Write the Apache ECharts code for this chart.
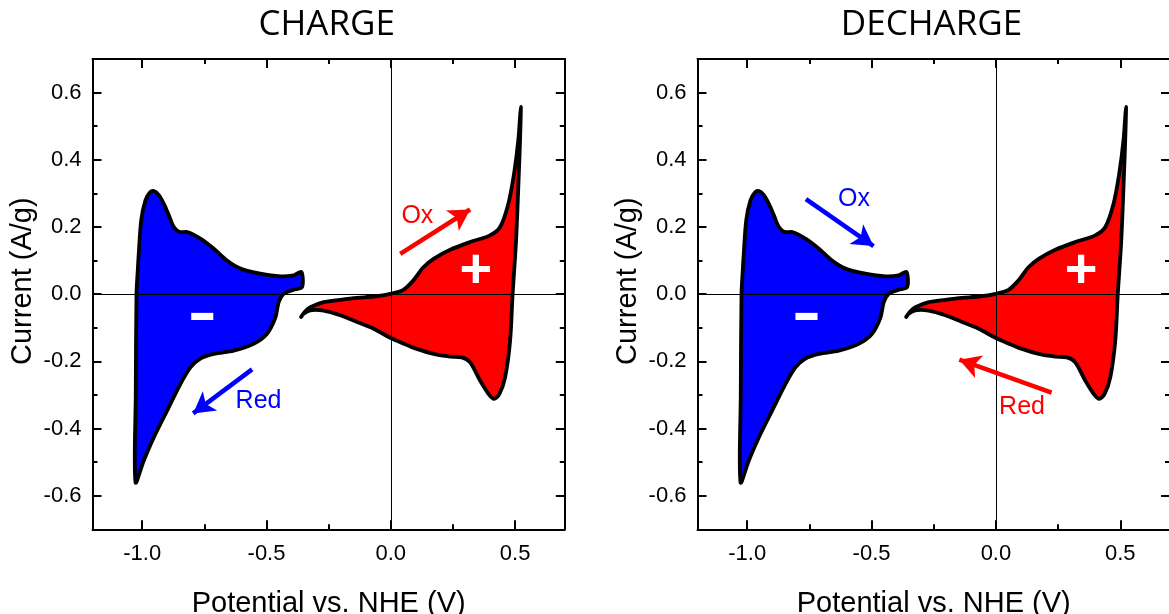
<!DOCTYPE html>
<html><head><meta charset="utf-8">
<script src="https://cdn.jsdelivr.net/npm/echarts@6/dist/echarts.min.js"></script>
<style>html,body{margin:0;padding:0;background:#fff}#c{width:1169px;height:614px}</style>
</head><body><div id="c"></div>
<script>
// ---------------- data ----------------
const panelTitles = ['CHARGE', 'DECHARGE'];
const xName = 'Potential vs. NHE (V)';
const yName = 'Current (A/g)';
const xMajor = [-1.0, -0.5, 0.0, 0.5];
const xMinor = [-0.75, -0.25, 0.25];
const yMajor = [-0.6, -0.4, -0.2, 0.0, 0.2, 0.4, 0.6];
const yMinor = [-0.5, -0.3, -0.1, 0.1, 0.3, 0.5];

// negative electrode CV loop (blue), potential (V) and current (A/g)
const negV = [-1.027, -1.026, -1.023, -1.018, -1.014, -1.004, -0.987, -0.970, -0.953, -0.933, -0.913, -0.893, -0.873, -0.849, -0.819, -0.766, -0.712, -0.659, -0.605, -0.525, -0.444, -0.391, -0.360, -0.357, -0.391, -0.431, -0.451, -0.464, -0.498, -0.552, -0.632, -0.712, -0.766, -0.806, -0.846, -0.900, -0.953, -0.994];
const negI = [-0.560, -0.300, 0.000, 0.070, 0.120, 0.220, 0.279, 0.302, 0.307, 0.295, 0.269, 0.235, 0.200, 0.185, 0.185, 0.165, 0.135, 0.100, 0.076, 0.061, 0.053, 0.056, 0.066, 0.021, 0.013, 0.001, -0.024, -0.069, -0.118, -0.148, -0.168, -0.178, -0.192, -0.218, -0.267, -0.347, -0.426, -0.496];

// positive electrode CV loop (red)
const posV = [-0.361, -0.344, -0.324, -0.270, -0.203, -0.136, -0.069, -0.002, 0.051, 0.091, 0.131, 0.172, 0.239, 0.319, 0.399, 0.440, 0.473, 0.496, 0.513, 0.523, 0.520, 0.515, 0.504, 0.490, 0.480, 0.460, 0.437, 0.415, 0.393, 0.359, 0.319, 0.286, 0.239, 0.172, 0.105, 0.038, -0.002, -0.069, -0.136, -0.203, -0.270, -0.324, -0.351];
const posI = [-0.068, -0.051, -0.039, -0.024, -0.017, -0.011, -0.007, 0.001, 0.013, 0.041, 0.080, 0.105, 0.132, 0.155, 0.175, 0.200, 0.269, 0.359, 0.458, 0.557, 0.460, 0.359, 0.160, 0.000, -0.138, -0.247, -0.297, -0.312, -0.297, -0.257, -0.203, -0.188, -0.186, -0.178, -0.163, -0.143, -0.130, -0.103, -0.083, -0.063, -0.049, -0.048, -0.058];

// annotations per panel
const noteText = [['Ox', 'Red', '+', '-'], ['Ox', 'Red', '+', '-']];
const noteV = [[0.107, -0.532, 0.342, -0.759], [-0.571, 0.105, 0.343, -0.762]];
const noteI = [[0.232, -0.319, 0.073, -0.078], [0.284, -0.337, 0.074, -0.078]];
const arrowFromV = [[0.038, -0.558], [-0.764, 0.224]];
const arrowFromI = [[0.120, -0.224], [0.283, -0.293]];
const arrowToV = [[0.319, -0.795], [-0.492, -0.147]];
const arrowToI = [[0.252, -0.355], [0.143, -0.195]];

// ---------------- styling ----------------
const FONT = '"Liberation Sans", Arial, sans-serif';
const RED = '#ff0000', BLUE = '#0000ff';
const noteColor = [[RED, BLUE, '#ffffff', '#ffffff'], [BLUE, RED, '#ffffff', '#ffffff']];
const noteSize = [25, 25, 56, 90];
const noteWeight = ['normal', 'normal', 'bold', 'normal'];
const noteDy = [0, 0, 2, -4];
const arrowColor = [[RED, BLUE], [BLUE, RED]];
const grids = [
  {left: 92.5, top: 59, width: 472.3, height: 470.3, outerBoundsMode: 'none', containLabel: false},
  {left: 697.5, top: 59, width: 472.5, height: 470.3, outerBoundsMode: 'none', containLabel: false}
];
const titleCenters = [326.7, 931.5];

const lineStyle = {color: '#000', width: 2};
function xAx(g, pos, vals, len, main) {
  return {
    gridIndex: g, type: 'value', min: -1.2, max: 0.7, position: pos,
    axisLine: {show: main, onZero: false, lineStyle: lineStyle},
    axisTick: {show: true, inside: true, length: len, lineStyle: lineStyle, customValues: vals},
    axisLabel: main && pos === 'bottom' ? {show: true, customValues: xMajor, margin: 14, fontSize: 22, color: '#000', fontFamily: FONT, formatter: v => v.toFixed(1)} : {show: false},
    splitLine: {show: false},
    name: main && pos === 'bottom' ? xName : '',
    nameLocation: 'middle', nameGap: 60,
    nameTextStyle: {fontSize: 29, color: '#000', fontFamily: FONT}
  };
}
function yAx(g, pos, vals, len, main) {
  return {
    gridIndex: g, type: 'value', min: -0.7, max: 0.7, position: pos,
    axisLine: {show: main, onZero: false, lineStyle: lineStyle},
    axisTick: {show: true, inside: true, length: len, lineStyle: lineStyle, customValues: vals},
    axisLabel: main && pos === 'left' ? {show: true, customValues: yMajor, margin: 11, fontSize: 22, color: '#000', fontFamily: FONT, formatter: v => v.toFixed(1)} : {show: false},
    splitLine: {show: false},
    name: main && pos === 'left' ? yName : '',
    nameLocation: 'middle', nameGap: 55,
    nameTextStyle: {fontSize: 29, color: '#000', fontFamily: FONT, padding: [0, 0, 0, 26]}
  };
}

const xAxis = [], yAxis = [], series = [], title = [];
for (let g = 0; g < 2; g++) {
  xAxis.push(xAx(g, 'bottom', xMajor, 9, true), xAx(g, 'top', xMajor, 9, true),
             xAx(g, 'bottom', xMinor, 5, false), xAx(g, 'top', xMinor, 5, false));
  yAxis.push(yAx(g, 'left', yMajor, 9, true), yAx(g, 'right', yMajor, 9, true),
             yAx(g, 'left', yMinor, 5, false), yAx(g, 'right', yMinor, 5, false));
  title.push({
    text: panelTitles[g], left: titleCenters[g] - 5, top: 3, textAlign: 'center',
    textStyle: {fontFamily: '"Open Sans", sans-serif', fontSize: 35, fontWeight: 'normal', color: '#000'}
  });
  const ax = g * 4;
  [[negV, negI, BLUE], [posV, posI, RED]].forEach(([V, I, col]) => {
    series.push({
      type: 'custom', coordinateSystem: 'cartesian2d', xAxisIndex: ax, yAxisIndex: ax,
      silent: true, z: 2, animation: false,
      data: V.map((v, i) => [v, I[i]]),
      renderItem: function (params, api) {
        if (params.dataIndex !== 0) return null;
        const pts = V.map((v, i) => api.coord([v, I[i]]));
        return {
          type: 'polygon', shape: {points: pts, smooth: 0.3},
          style: {fill: col, stroke: '#000', lineWidth: 3.8, lineJoin: 'round'}
        };
      }
    });
  });
  const mlData = [
    {xAxis: 0, lineStyle: {color: '#000', width: 1, type: 'solid'}},
    {yAxis: 0, lineStyle: {color: '#000', width: 1, type: 'solid'}}
  ];
  for (let k = 0; k < 2; k++) {
    mlData.push([
      {coord: [arrowFromV[g][k], arrowFromI[g][k]], symbol: 'none', lineStyle: {color: arrowColor[g][k], width: 4.5, type: 'solid'}},
      {coord: [arrowToV[g][k], arrowToI[g][k]], symbol: 'arrow', symbolSize: [18, 21]}
    ]);
  }
  series.push({
    type: 'scatter', xAxisIndex: ax, yAxisIndex: ax, z: 5, silent: true, animation: false,
    symbolSize: 0, itemStyle: {opacity: 1},
    data: noteText[g].map((t, k) => ({
      value: [noteV[g][k], noteI[g][k]],
      label: {show: true, position: 'inside', formatter: t, color: noteColor[g][k], opacity: 1,
              fontSize: noteSize[k], fontWeight: noteWeight[k], fontFamily: FONT, offset: [0, noteDy[k]]}
    })),
    markLine: {silent: true, symbol: ['none', 'none'], animation: false, label: {show: false}, data: mlData}
  });
}

const chart = echarts.init(document.getElementById('c'), null, {renderer: 'canvas'});
chart.setOption({backgroundColor: '#fff', animation: false, title, grid: grids, xAxis, yAxis, series});
</script>
</body></html>
